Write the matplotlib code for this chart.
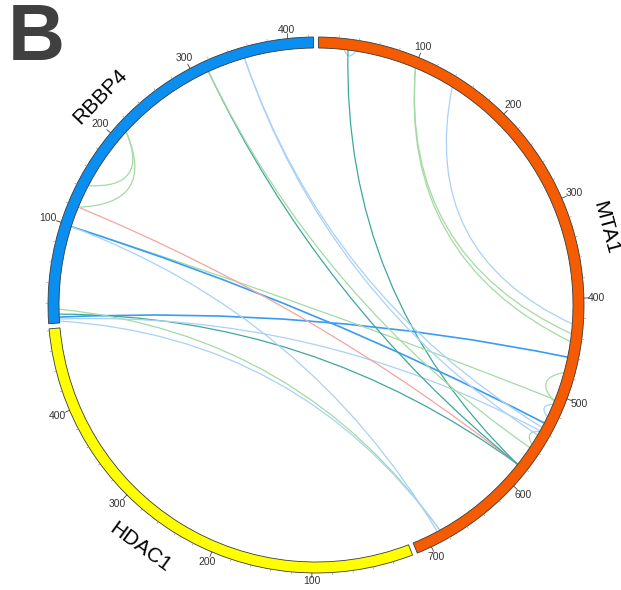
import numpy as np
import matplotlib.pyplot as plt
from matplotlib.patches import Wedge, PathPatch
from matplotlib.path import Path

# proteins around the circle, clockwise from the top
proteins = ["MTA1", "HDAC1", "RBBP4"]
lengths = [715, 482, 425]
ring_colors = ["#f55b00", "#ffff00", "#0a8ff0"]

# crosslinks: protein/residue at each end and the link class
link_a = ["MTA1", "MTA1", "MTA1", "MTA1", "MTA1", "MTA1", "MTA1", "MTA1",
          "RBBP4", "RBBP4", "RBBP4", "RBBP4", "RBBP4", "RBBP4", "RBBP4",
          "RBBP4", "RBBP4", "RBBP4", "RBBP4", "RBBP4", "RBBP4", "RBBP4",
          "RBBP4"]
res_a = [26, 30, 101, 101, 143, 476, 510, 541,
         6, 9, 14, 2, 4, 99, 99,
         99, 120, 211, 211, 315, 315, 354,
         354]
link_b = ["MTA1", "MTA1", "MTA1", "MTA1", "MTA1", "MTA1", "MTA1", "MTA1",
          "MTA1", "MTA1", "MTA1", "MTA1", "MTA1", "MTA1", "MTA1",
          "MTA1", "MTA1", "RBBP4", "RBBP4", "MTA1", "MTA1", "MTA1",
          "MTA1"]
res_b = [38, 581, 436, 444, 426, 507, 524, 556,
         460, 581, 685, 685, 540, 505, 531,
         688, 581, 144, 120, 581, 560, 545,
         536]
link_kind = ["light", "teal", "green", "green", "light", "green", "light", "green",
             "blue", "teal", "green", "light", "light", "green", "blue",
             "light", "red", "green", "green", "teal", "green", "light",
             "light"]

kind_colors = {"light": "#a9d1f7", "green": "#a3dba3", "teal": "#3fa79b",
               "blue": "#3a9cf0", "red": "#f5a3a3"}
kind_widths = {"light": 0.9, "green": 0.9, "teal": 0.9, "blue": 1.2, "red": 0.9}

gap = 1.1                      # degrees between proteins
deg_per_res = (360 - gap * len(proteins)) / sum(lengths)
px = 1 / 268                   # one pixel in axis units
r_out = 1.0
r_in = 1.0 - 11 * px

starts = {}
a = 90 - gap / 2
for name, n in zip(proteins, lengths):
    starts[name] = a
    a -= n * deg_per_res + gap


def angle_of(name, res):
    return starts[name] - res * deg_per_res


plt.rcParams['font.family'] = ['Liberation Sans', 'DejaVu Sans']
fig = plt.figure(figsize=(6.21, 5.90), dpi=100)
ax = fig.add_axes([0, 0, 1, 1])
ax.set_xlim(-316 * px, 305 * px)
ax.set_ylim(-285 * px, 305 * px)
ax.axis('off')

# ring segments, ticks and tick labels
for name, n, col in zip(proteins, lengths, ring_colors):
    a0 = angle_of(name, 0)
    a1 = angle_of(name, n)
    ax.add_patch(Wedge((0, 0), r_out, a1, a0, width=r_out - r_in,
                       facecolor=col, edgecolor='#3a3a3a', lw=0.6, zorder=3))
    for t in range(20, n, 20):
        th = np.radians(angle_of(name, t))
        major = t % 100 == 0
        ln = 0.018 if major else 0.008
        ax.plot([r_out * np.cos(th), (r_out + ln) * np.cos(th)],
                [r_out * np.sin(th), (r_out + ln) * np.sin(th)],
                color='#444444' if major else '#888888',
                lw=0.6 if major else 0.4, zorder=3)
        if major:
            # push the label out by half its box in the radial direction
            rl = r_out + 3.5 * px + (9 * abs(np.cos(th)) + 4.5 * abs(np.sin(th))) * px
            ax.text(rl * np.cos(th), rl * np.sin(th), str(t), fontsize=7.5,
                    color='#333333', ha='center', va='center')

# protein names, written along the ring
name_angles = {"MTA1": 15, "HDAC1": -126, "RBBP4": 136}
for name in proteins:
    th = name_angles[name]
    rot = th - 90 if 0 < th < 180 else th + 90
    r = 1.118
    ax.text(r * np.cos(np.radians(th)), r * np.sin(np.radians(th)), name,
            fontsize=15, rotation=rot, rotation_mode='anchor',
            ha='center', va='center', color='black')

# crosslinks as quadratic curves bowing toward the centre
for pa, ra, pb, rb, kind in zip(link_a, res_a, link_b, res_b, link_kind):
    t1 = np.radians(angle_of(pa, ra))
    t2 = np.radians(angle_of(pb, rb))
    u1 = np.array([np.cos(t1), np.sin(t1)])
    u2 = np.array([np.cos(t2), np.sin(t2)])
    phi = np.arccos(np.clip(u1 @ u2, -1, 1))
    h = phi / 2
    m = u1 + u2
    norm = np.linalg.norm(m)
    m = m / norm if norm > 1e-9 else np.zeros(2)
    # closest approach to the centre, close to an arc orthogonal to the ring
    apex = r_in * (1 - np.sin(h)) / np.cos(h) * (1 + 0.2 * np.sin(phi) ** 2)
    rc = 2 * apex - r_in * np.cos(h)
    verts = [r_in * u1, rc * m, r_in * u2]
    path = Path(verts, [Path.MOVETO, Path.CURVE3, Path.CURVE3])
    ax.add_patch(PathPatch(path, facecolor='none', edgecolor=kind_colors[kind],
                           lw=kind_widths[kind], zorder=2))

fig.text(8 / 621, 1 - 39 / 590, "B", fontsize=57, fontweight='bold',
         color='#404040', ha='left', va='center')

fig.savefig("out.png", dpi=100)
